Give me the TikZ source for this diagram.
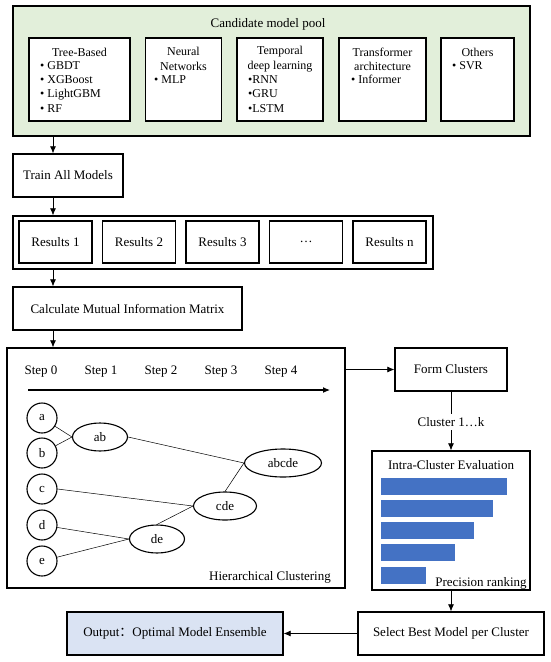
\documentclass[tikz,border=0pt]{standalone}
\usepackage{fontspec}
\setmainfont{Liberation Serif}
\newfontfamily\cjk{Noto Sans CJK SC}
\usetikzlibrary{shapes.geometric}
\usetikzlibrary{arrows.meta}
\usetikzlibrary{calc}

\definecolor{poolgreen}{HTML}{E2EFDA}
\definecolor{outblue}{HTML}{DAE3F3}
\definecolor{barblue}{HTML}{4472C4}

\tikzset{
  box/.style={draw, line width=1.3pt, inner sep=0pt},
  arr/.style={-{Latex[length=7pt,width=6pt]}, line width=0.7pt},
  leaf/.style={draw, circle, line width=1.1pt, minimum size=30pt, inner sep=0pt},
  merge/.style={draw, ellipse, line width=1.1pt, minimum height=28pt, inner sep=0pt},
  link/.style={line width=0.5pt},
  small/.style={font=\fontsize{12}{14.3}\selectfont},
  item/.style={small, anchor=west, inner sep=0pt, text height=8.5pt, text depth=2.5pt},
}

\begin{document}
\begin{tikzpicture}[x=1pt,y=-1pt,font=\fontsize{13}{15}\selectfont]
\useasboundingbox (0,0) rectangle (550,662);

% candidate pool
\node[box, fill=poolgreen, minimum width=517pt, minimum height=130pt] (pool) at (271.5,71) {};
\node (pooltitle) at (268,24) {Candidate model pool};
\node[box, fill=white, minimum width=101pt, minimum height=83pt] (tree) at (79.5,79.5) {};
\node[box, fill=white, minimum width=76pt, minimum height=83pt] (nnet) at (183.5,79.5) {};
\node[box, fill=white, minimum width=86pt, minimum height=83pt] (temporal) at (280,79.5) {};
\node[box, fill=white, minimum width=87pt, minimum height=83pt] (transf) at (382.5,79.5) {};
\node[box, fill=white, minimum width=73pt, minimum height=83pt] (others) at (477.5,79.5) {};

\node[small] (treet) at (tree |- 0,52) {Tree-Based};
\foreach \t [count=\i] in {GBDT,XGBoost,LightGBM,RF}
  \node[item] (tree\i) at (40,52+14.3*\i) {• \t};
\node[small, align=center] (nnett) at (nnet |- 0,59) {Neural\\Networks};
\node[item] (nnet1) at (154,80.6) {• MLP};
\node[small, align=center] (temporalt) at (temporal |- 0,59) {Temporal\\deep learning};
\foreach \t [count=\i] in {RNN,GRU,LSTM}
  \node[item] (temporal\i) at (248,66.3+14.3*\i) {•\t};
\node[small, align=center] (transft) at (transf |- 0,59) {Transformer\\architecture};
\node[item] (transf1) at (351,80.6) {• Informer};
\node[small] (otherst) at (others |- 0,52) {Others};
\node[item] (others1) at (452,66.3) {• SVR};

% main column
\coordinate (ax) at (53,0);
\node[box, minimum width=110pt, minimum height=43pt] (train) at (68,175.5) {Train All Models};
\node[box, minimum width=420pt, minimum height=53pt] (results) at (223,242.5) {};
\foreach \t [count=\i] in {Results 1,Results 2,Results 3,…,Results n}
  \node[box, minimum width=73pt, minimum height=42pt] (res\i) at (55.5+83.5*\i-83.5,242) {\t};
\node[box, minimum width=229pt, minimum height=43pt] (mim) at (127.5,308.5) {Calculate Mutual Information Matrix};
\node[box, minimum width=338pt, minimum height=240pt] (hier) at (176,468) {};

\draw[arr] (pool.south -| ax) -- (train.north -| ax);
\draw[arr] (train.south -| ax) -- (results.north -| ax);
\draw[arr] (results.south -| ax) -- (mim.north -| ax);
\draw[arr] (mim.south -| ax) -- (hier.north -| ax);

% hierarchical clustering
\foreach \i in {0,...,4}
  \node (step\i) at (41+60*\i,372) {Step \i};
\coordinate (t0) at (28,390);
\coordinate (t1) at (330,390);
\draw[arr, line width=1.1pt] (t0) -- (t1);

\foreach \n/\y in {a/418,b/453,c/489,d/525,e/561}
  \node[leaf] (\n) at (42,\y) {\n};
\node[merge, minimum width=55pt] (ab) at (100,437) {ab};
\node[merge, minimum width=55pt] (de) at (157,539) {de};
\node[merge, minimum width=63pt] (cde) at (225,506) {cde};
\node[merge, minimum width=77pt] (abcde) at (283,463) {abcde};

\draw[link] (a) -- (ab.west);
\draw[link] (b) -- (ab.west);
\draw[link] (d) -- (de.west);
\draw[link] (e) -- (de.west);
\draw[link] (c.east) -- (cde.west);
\draw[link] (de.north) -- (cde.west);
\draw[link] (ab.east) -- (abcde.west);
\draw[link] (cde.north) -- (abcde.west);

\node (hlabel) at (270,577) {Hierarchical Clustering};

% right column
\node[box, minimum width=112pt, minimum height=43pt] (form) at (451,369.5) {Form Clusters};
\draw[arr] (form.west -| hier.east) -- (form.west);
\node (clk) at (451,422) {Cluster 1…k};
\draw[link, line width=0.7pt] (form) -- (clk);

\node[box, minimum width=158pt, minimum height=139pt] (intra) at (451,520.5) {};
\draw[arr] (clk) -- (intra);
\node (intrat) at (451,465) {Intra-Cluster Evaluation};
\foreach \e/\y in {507/478,493/500,474/522,455/544,426/567}
  \fill[barblue] (381,\y) rectangle (\e,\y+17);
\node (prec) at (481,583) {Precision ranking};

\node[box, minimum width=186pt, minimum height=43pt] (select) at (451,633.5) {Select Best Model per Cluster};
\node[box, fill=outblue, minimum width=216pt, minimum height=43pt] (output) at (175,633.5) {Output{\cjk ：}Optimal Model Ensemble};
\draw[arr] (intra) -- (select);
\draw[arr] (select) -- (output);
\end{tikzpicture}
\end{document}
